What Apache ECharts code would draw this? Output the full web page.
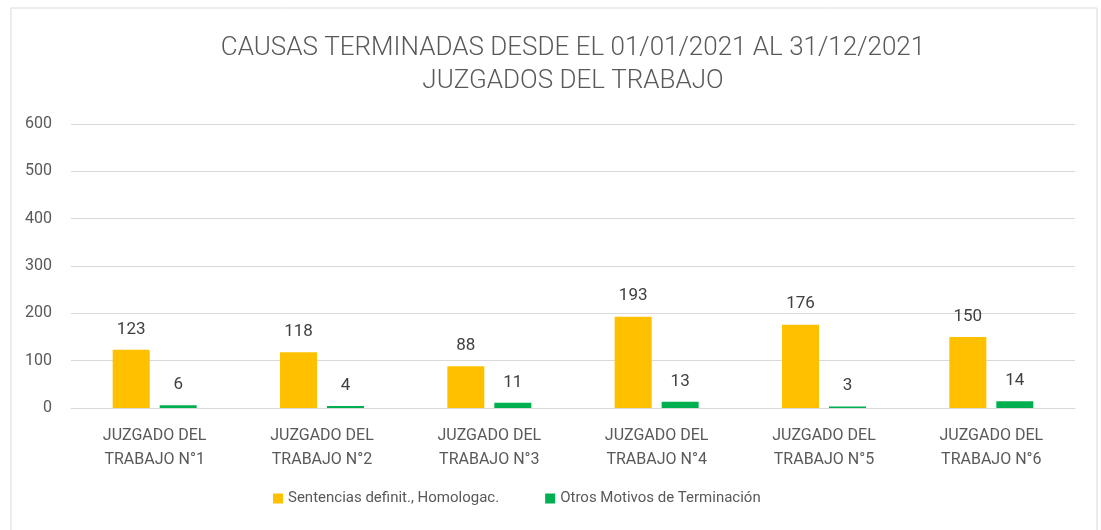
<!DOCTYPE html>
<html>
<head>
<meta charset="utf-8">
<script src="https://cdn.jsdelivr.net/npm/echarts@6/dist/echarts.min.js"></script>
<style>
  html, body { margin: 0; padding: 0; background: #fff; }
  #chart { width: 1101px; height: 530px; }
</style>
</head>
<body>
<div id="chart"></div>
<script>
// data
const juzgados = [
  'JUZGADO DEL\nTRABAJO N°1',
  'JUZGADO DEL\nTRABAJO N°2',
  'JUZGADO DEL\nTRABAJO N°3',
  'JUZGADO DEL\nTRABAJO N°4',
  'JUZGADO DEL\nTRABAJO N°5',
  'JUZGADO DEL\nTRABAJO N°6'
];
const sentencias = [123, 118, 88, 193, 176, 150];
const otrosMotivos = [6, 4, 11, 13, 3, 14];
const seriesNames = ['Sentencias definit., Homologac.', 'Otros Motivos de Terminación'];

const chart = echarts.init(document.getElementById('chart'));

const txt = '#595959';
const font = 'Roboto';

chart.setOption({
  animation: false,
  title: {
    text: 'CAUSAS TERMINADAS DESDE EL 01/01/2021 AL 31/12/2021\nJUZGADOS DEL TRABAJO',
    left: 568, // title sits a bit right of centre in the original
    textAlign: 'center',
    top: 27,
    textStyle: {
      fontFamily: font,
      fontSize: 26,
      fontWeight: 300,
      color: txt,
      lineHeight: 33,
    },
  },
  graphic: [{
    type: 'rect',
    shape: { x: 11, y: 8, width: 1086, height: 540 },
    style: { fill: 'none', stroke: '#d9d9d9', lineWidth: 1 },
    silent: true,
  }],
  legend: {
    bottom: 19,
    left: 268,
    itemWidth: 10,
    itemHeight: 10,
    itemGap: 46,
    icon: 'rect',
    textStyle: { fontFamily: font, fontSize: 15, color: txt },
    data: seriesNames,
  },
  grid: {
    left: 71,
    right: 26,
    top: 124,
    bottom: 122,
  },
  xAxis: {
    type: 'category',
    data: juzgados,
    axisTick: { show: false },
    axisLine: { lineStyle: { color: '#d9d9d9' } },
    axisLabel: {
      interval: 0,
      margin: 16,
      fontFamily: font,
      fontSize: 16,
      lineHeight: 24,
      color: txt,
    },
  },
  yAxis: {
    type: 'value',
    min: 0,
    max: 600,
    interval: 100,
    axisLine: { show: false },
    axisTick: { show: false },
    axisLabel: { margin: 19, fontFamily: font, fontSize: 16, color: txt },
    splitLine: { lineStyle: { color: '#d9d9d9' } },
  },
  series: [
    {
      name: seriesNames[0],
      type: 'bar',
      barWidth: 37,
      barGap: '27%',
      data: sentencias,
      itemStyle: { color: '#FFC000' },
      label: {
        show: true,
        position: 'top',
        distance: 12,
        fontFamily: font,
        fontSize: 17,
        color: '#404040',
      },
    },
    {
      name: seriesNames[1],
      type: 'bar',
      barWidth: 37,
      data: otrosMotivos,
      itemStyle: { color: '#00B050' },
      label: {
        show: true,
        position: 'top',
        distance: 12,
        fontFamily: font,
        fontSize: 17,
        color: '#404040',
      },
    },
  ],
});
</script>
</body>
</html>
